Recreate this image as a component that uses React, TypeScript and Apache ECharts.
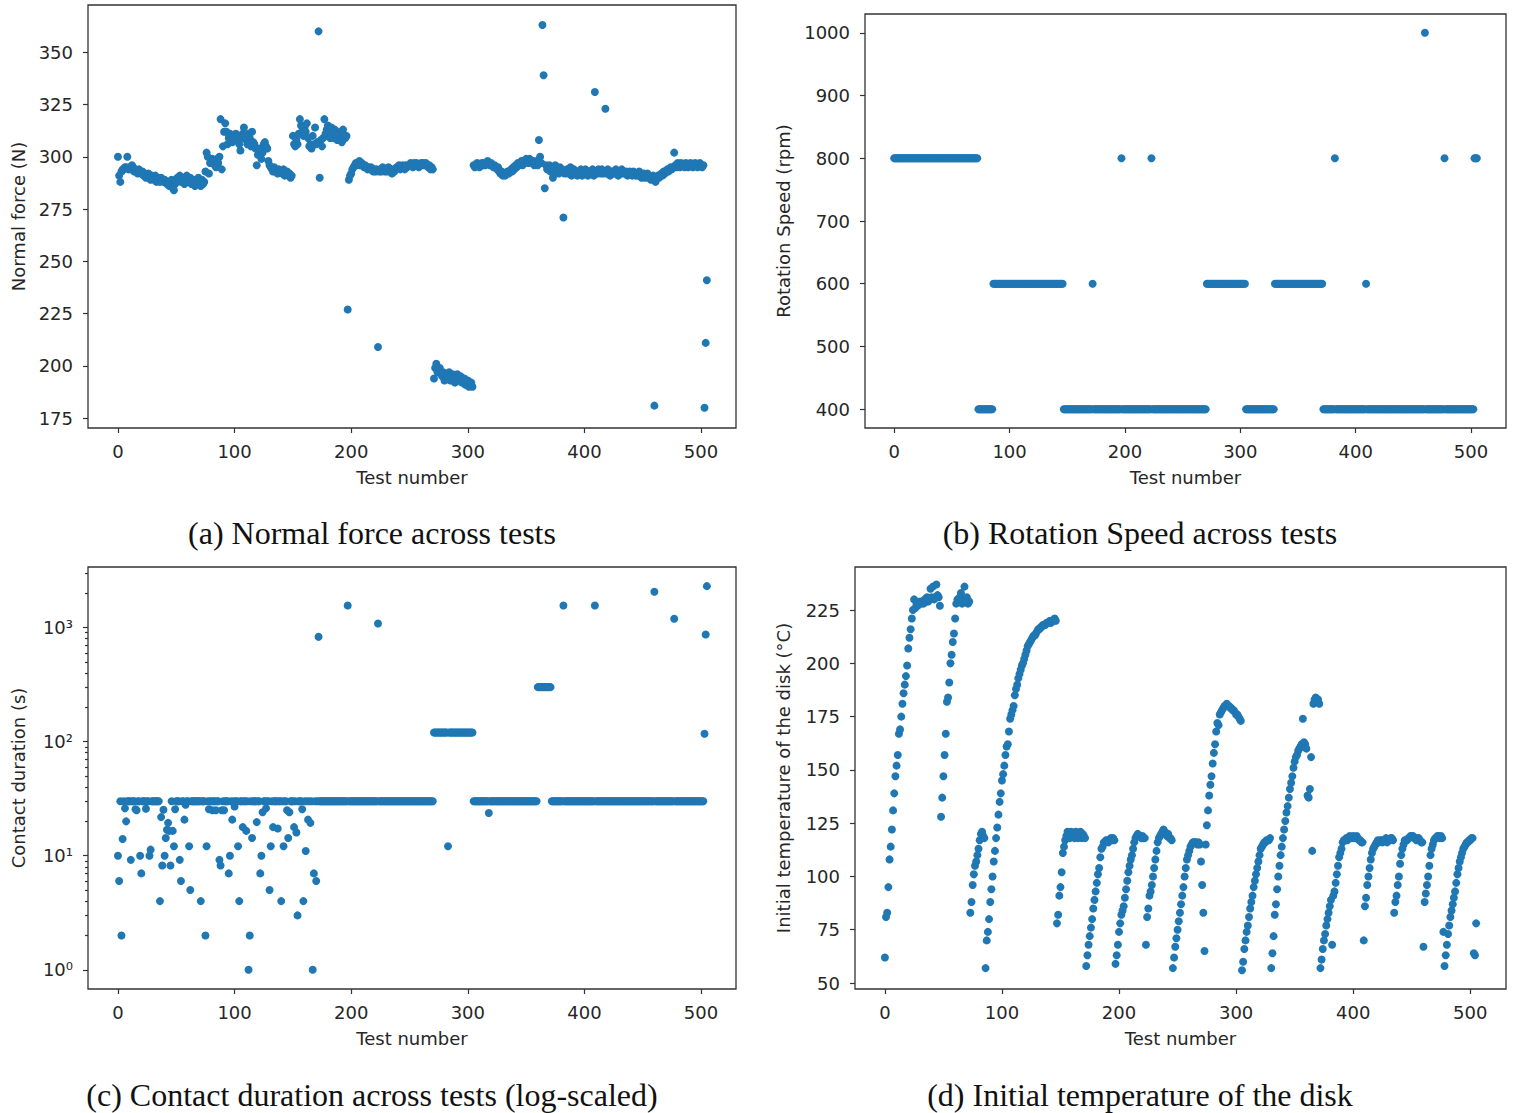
import React, { useEffect, useRef } from "react";
import * as echarts from "echarts";

// ---------- data ----------
// (a) normal force, one value per test number 0..505
const normalForce: number[] = [
  300, 291, 288, 293, 294, 294, 295, 295, 300, 294,
  295, 294, 296, 295, 293, 294, 293, 292, 294, 293,
  292, 293, 291, 292, 290, 291, 292, 290, 289, 291,
  290, 289, 291, 288, 290, 289, 288, 290, 289, 288,
  289, 288, 287, 288, 286, 287, 289, 285, 284, 287,
  288, 290, 289, 291, 288, 289, 290, 287, 289, 291,
  289, 288, 290, 287, 289, 288, 286, 289, 287, 290,
  288, 286, 289, 287, 288, 293, 302, 300, 292, 297,
  297, 299, 298, 296, 295, 299, 297, 300, 318, 294,
  305, 312, 316, 312, 306, 309, 311, 308, 307, 310,
  309, 311, 308, 310, 306, 303, 309, 311, 314, 310,
  308, 306, 311, 309, 305, 312, 307, 306, 304, 296,
  301, 303, 304, 299, 302, 306, 307, 305, 304, 298,
  296, 295, 294, 293, 295, 294, 293, 292, 294, 293,
  293, 292, 294, 291, 292, 293, 291, 292, 290, 291,
  310, 306, 305, 308, 306, 311, 318, 315, 312, 310,
  314, 312, 316, 309, 305, 306, 304, 310, 306, 314,
  306, 307, 360, 290, 308, 305, 309, 318, 311, 313,
  315, 312, 309, 314, 311, 309, 313, 312, 308, 310,
  311, 312, 307, 313, 310, 309, 310, 227, 289, 291,
  292, 294, 295, 296, 297, 296, 297, 298, 296, 297,
  296, 295, 296, 295, 294, 295, 294, 295, 294, 293,
  294, 293, 294, 209, 293, 294, 293, 295, 294, 293,
  294, 293, 295, 294, 293, 292, 294, 293, 294, 295,
  295, 296, 294, 295, 296, 295, 294, 296, 295, 296,
  296, 297, 296, 295, 297, 296, 297, 296, 295, 296,
  297, 296, 297, 296, 297, 296, 295, 296, 294, 295,
  294, 194, 199, 201, 197, 198, 199, 196, 195, 197,
  193, 196, 194, 195, 197, 193, 195, 196, 194, 192,
  195, 196, 193, 194, 195, 192, 193, 194, 191, 192,
  193, 190, 191, 192, 190, 296, 295, 296, 297, 296,
  295, 296, 297, 296, 297, 296, 297, 298, 297, 296,
  297, 296, 295, 296, 295, 294, 295, 293, 292, 293,
  291, 292, 291, 292, 293, 292, 293, 294, 293, 295,
  294, 296, 295, 297, 296, 297, 298, 296, 298, 297,
  299, 298, 297, 299, 298, 297, 298, 296, 297, 298,
  296, 308, 300, 297, 363, 339, 285, 296, 294, 295,
  296, 293, 295, 290, 294, 296, 293, 294, 292, 295,
  293, 294, 271, 292, 293, 294, 292, 293, 295, 291,
  293, 294, 292, 293, 291, 293, 292, 294, 291, 293,
  292, 294, 293, 291, 292, 293, 292, 294, 291, 331,
  293, 292, 294, 293, 292, 294, 292, 293, 323, 292,
  294, 293, 291, 293, 292, 293, 292, 294, 293, 291,
  292, 293, 294, 292, 293, 292, 293, 291, 292, 293,
  292, 291, 293, 292, 291, 292, 291, 293, 292, 290,
  291, 292, 290, 291, 292, 290, 291, 289, 290, 291,
  181, 288, 290, 291, 290, 291, 292, 291, 293, 292,
  293, 294, 293, 294, 295, 294, 295, 302, 296, 295,
  297, 296, 295, 297, 296, 296, 295, 297, 296, 295,
  296, 297, 296, 295, 296, 297, 296, 295, 296, 297,
  296, 295, 296, 180, 211, 241,
];

// (b) rotation speed: runs of [rpm, number of consecutive tests], then single tests [test, rpm]
const speedRuns: [number, number][] = [
  [800, 73], [400, 13], [600, 61], [400, 124], [600, 34], [400, 25], [600, 42], [400, 131], [800, 3],
];
const speedSingles: [number, number][] = [
  [172, 600], [197, 800], [223, 800], [382, 800], [409, 600], [460, 1000], [477, 800],
];

// (c) contact duration (s): runs of [seconds, count], then single tests [test, seconds]
const durationRuns: [number, number][] = [
  [30, 271], [120, 34], [30, 55], [300, 12], [30, 134],
];
const durationSingles: [number, number][] = [
  [0, 10], [1, 6], [3, 2], [4, 14], [6, 26], [7, 20], [11, 9.2], [15, 25.5], [16, 25], [19, 10],
  [20, 7], [24, 25.8], [27, 10], [28, 11.3], [36, 4], [37, 21.8], [38, 8.2], [39, 25.3], [40, 10],
  [41, 14.3], [42, 16.9], [43, 19.4], [44, 16.5], [45, 8.2], [47, 16.5], [48, 12.1], [49, 25.5],
  [53, 9.2], [54, 6], [57, 20.7], [58, 28], [61, 12.1], [62, 5], [71, 4], [75, 2], [76, 12.1],
  [78, 25.5], [81, 25], [84, 25], [87, 9.2], [88, 8.2], [89, 25], [91, 25], [95, 7], [96, 10],
  [98, 20.7], [100, 27], [103, 12.1], [104, 4], [107, 17.8], [110, 16.5], [112, 1], [113, 2],
  [115, 14.3], [119, 19.7], [122, 7], [123, 10], [124, 24], [127, 26], [130, 5], [131, 12.1],
  [133, 17.8], [137, 17.3], [140, 4], [142, 12.1], [145, 25], [146, 14.3], [147, 24], [151, 17.8],
  [153, 16], [154, 3], [158, 25.5], [159, 4], [161, 11], [163, 20.7], [165, 19.4], [167, 1],
  [168, 7], [170, 6], [172, 828], [197, 1560], [223, 1084], [283, 12.1], [318, 23.7],
  [382, 1560], [409, 1560], [460, 2056], [477, 1192], [503, 117], [504, 868], [505, 2303],
];

// (d) initial disk temperature (°C), one value per test number 0..505
const diskTemperature: number[] = [
  62, 81, 83, 95, 108, 114, 122, 131, 139, 147,
  152, 157, 167, 169, 175, 181, 186, 190, 194, 199,
  207, 212, 216, 221, 225, 230, 226, 228, 227, 228,
  229, 228, 229, 228, 230, 229, 231, 229, 230, 235,
  231, 236, 230, 231, 237, 232, 231, 227, 128, 137,
  147, 157, 167, 182, 184, 191, 200, 204, 210, 214,
  221, 228, 230, 229, 231, 233, 228, 230, 236, 229,
  231, 228, 229, 83, 88, 96, 101, 105, 107, 110,
  113, 117, 120, 121, 119, 118, 57, 70, 74, 80,
  88, 94, 100, 107, 112, 118, 123, 129, 135, 139,
  145, 148, 152, 157, 161, 162, 168, 174, 176, 178,
  180, 185, 188, 190, 193, 195, 197, 199, 200, 202,
  204, 206, 208, 209, 210, 211, 212, 213, 213, 214,
  215, 216, 216, 217, 217, 218, 218, 218, 219, 219,
  219, 220, 219, 220, 220, 221, 220, 78, 82, 91,
  95, 102, 111, 114, 117, 119, 121, 120, 118, 121,
  119, 120, 118, 121, 119, 118, 120, 121, 118, 120,
  119, 118, 58, 63, 68, 72, 76, 80, 85, 89,
  93, 97, 101, 104, 109, 113, 114, 116, 116, 117,
  117, 116, 117, 118, 117, 118, 117, 59, 63, 68,
  74, 78, 82, 84, 86, 90, 94, 98, 102, 105,
  108, 110, 113, 116, 118, 119, 120, 119, 119, 118,
  119, 118, 118, 68, 81, 85, 91, 93, 96, 100,
  104, 108, 112, 116, 118, 119, 120, 121, 122, 121,
  120, 119, 120, 118, 118, 117, 57, 62, 67, 71,
  75, 79, 83, 87, 91, 95, 100, 104, 108, 110,
  112, 114, 115, 116, 116, 116, 116, 115, 116, 115,
  107, 96, 83, 65, 115, 124, 131, 138, 143, 147,
  153, 158, 162, 168, 172, 171, 176, 177, 178, 179,
  180, 180, 181, 180, 180, 179, 179, 178, 178, 177,
  176, 176, 175, 174, 173, 56, 60, 66, 70, 74,
  77, 81, 85, 88, 91, 95, 98, 101, 104, 107,
  110, 113, 114, 115, 116, 116, 117, 117, 117, 118,
  57, 64, 72, 82, 87, 94, 100, 105, 110, 114,
  118, 122, 126, 130, 133, 137, 141, 144, 147, 151,
  154, 156, 157, 159, 160, 161, 162, 174, 163, 162,
  160, 138, 137, 141, 156, 112, 181, 183, 184, 182,
  183, 181, 57, 61, 66, 70, 73, 77, 80, 83,
  86, 89, 68, 91, 93, 97, 101, 105, 109, 111,
  113, 116, 117, 117, 118, 117, 118, 119, 118, 118,
  119, 118, 118, 119, 118, 117, 117, 116, 116, 70,
  86, 90, 96, 100, 104, 108, 111, 113, 114, 115,
  116, 117, 116, 117, 117, 116, 117, 117, 118, 116,
  117, 117, 118, 118, 117, 83, 88, 91, 96, 100,
  106, 110, 113, 115, 117, 117, 117, 118, 118, 119,
  119, 119, 118, 118, 117, 118, 118, 117, 116, 116,
  67, 88, 92, 96, 100, 105, 110, 113, 115, 117,
  118, 118, 119, 119, 118, 119, 118, 74, 58, 63,
  68, 73, 77, 81, 84, 87, 90, 93, 97, 101,
  104, 107, 109, 111, 113, 114, 115, 116, 116, 117,
  117, 118, 118, 64, 63, 78,
];

// tick labels
const testTicks = [0, 100, 200, 300, 400, 500];
const forceTicks = [175, 200, 225, 250, 275, 300, 325, 350];
const speedTicks = [400, 500, 600, 700, 800, 900, 1000];
const durationTicks = [1, 10, 100, 1000];
const durationMinorTicks = [
  2, 3, 4, 5, 6, 7, 8, 9, 20, 30, 40, 50, 60, 70, 80, 90,
  200, 300, 400, 500, 600, 700, 800, 900, 2000, 3000,
];
const tempTicks = [50, 75, 100, 125, 150, 175, 200, 225];

const captions = [
  "(a) Normal force across tests",
  "(b) Rotation Speed across tests",
  "(c) Contact duration across tests (log-scaled)",
  "(d) Initial temperature of the disk",
];

// ---------- helpers ----------
function expandRuns(runs: [number, number][], singles: [number, number][]): number[] {
  const out: number[] = [];
  runs.forEach(([v, n]) => {
    for (let k = 0; k < n; k++) out.push(v);
  });
  singles.forEach(([i, v]) => {
    out[i] = v;
  });
  return out;
}

const SUP: Record<number, string> = { 0: "\u2070", 1: "\u00b9", 2: "\u00b2", 3: "\u00b3" };
const TEXT = "#262626";
const FRAME = "#333333";
const DOT = "#1f77b4";
const SANS = "DejaVu Sans";

function buildOption() {
  const speed = expandRuns(speedRuns, speedSingles);
  const duration = expandRuns(durationRuns, durationSingles);
  const toPoints = (arr: number[]) => arr.map((v, i) => [i, v]);

  const logMinExp = -0.168;
  const logMaxExp = 3.53;

  const labelStyle = (margin: number) => ({
    fontSize: 18,
    fontFamily: SANS,
    color: TEXT,
    margin,
    formatter: (v: number) => String(v),
  });
  const tickStyle = (values: number[], length = 5) => ({
    show: true,
    length,
    customValues: values,
    lineStyle: { color: FRAME, width: 1.2 },
  });
  const nameStyle = { fontSize: 18, fontFamily: SANS, color: TEXT };
  const hiddenLine = { show: false, onZero: false };

  const xAxis = (grid: number, min: number, max: number, gap: number) => ({
    type: "value",
    gridIndex: grid,
    position: "bottom",
    min,
    max,
    axisLine: hiddenLine,
    splitLine: { show: false },
    axisTick: tickStyle(testTicks),
    axisLabel: { ...labelStyle(14), customValues: testTicks },
    name: "Test number",
    nameLocation: "middle",
    nameGap: gap,
    nameTextStyle: nameStyle,
  });

  const grids = [
    { left: 88, top: 5, width: 648, height: 423 },
    { left: 865, top: 14, width: 641, height: 414 },
    { left: 88, top: 567, width: 648, height: 422 },
    { left: 855, top: 567, width: 651, height: 422 },
  ].map((g) => ({
    ...g,
    show: true,
    borderColor: FRAME,
    borderWidth: 1.3,
    backgroundColor: "transparent",
    containLabel: false,
  }));

  const yValueAxis = (
    grid: number,
    min: number,
    max: number,
    ticks: number[],
    name: string,
    gap: number
  ) => ({
    type: "value",
    gridIndex: grid,
    position: "left",
    min,
    max,
    axisLine: hiddenLine,
    splitLine: { show: false },
    axisTick: tickStyle(ticks),
    axisLabel: { ...labelStyle(15), customValues: ticks },
    name,
    nameLocation: "middle",
    nameGap: gap,
    nameTextStyle: nameStyle,
  });

  const scatter = (xi: number, yi: number, data: number[][]) => ({
    type: "scatter",
    xAxisIndex: xi,
    yAxisIndex: yi,
    data,
    symbol: "circle",
    symbolSize: 8,
    itemStyle: { color: DOT, opacity: 1 },
    silent: true,
    emphasis: { disabled: true },
  });

  return {
    animation: false,
    backgroundColor: "#ffffff",
    grid: grids,
    xAxis: [
      xAxis(0, -25.7, 530, 40),
      xAxis(1, -25.3, 530.3, 40),
      xAxis(2, -25.7, 530, 40),
      xAxis(3, -25.5, 530.5, 40),
    ],
    yAxis: [
      yValueAxis(0, 170.3, 372.6, forceTicks, "Normal force (N)", 61),
      yValueAxis(1, 370, 1030, speedTicks, "Rotation Speed (rpm)", 73),
      {
        type: "log",
        logBase: 10,
        gridIndex: 2,
        position: "left",
        min: Math.pow(10, logMinExp),
        max: Math.pow(10, logMaxExp),
        show: false,
        axisLine: hiddenLine,
      },
      {
        type: "value",
        gridIndex: 2,
        position: "left",
        min: logMinExp,
        max: logMaxExp,
        axisLine: hiddenLine,
        splitLine: { show: false },
        axisTick: tickStyle(durationTicks.map((v) => Math.log10(v))),
        axisLabel: {
          fontSize: 18,
          fontFamily: SANS,
          color: TEXT,
          margin: 15,
          customValues: durationTicks.map((v) => Math.log10(v)),
          formatter: (v: number) => "10" + SUP[Math.round(v)],
        },
        name: "Contact duration (s)",
        nameLocation: "middle",
        nameGap: 61,
        nameTextStyle: nameStyle,
      },
      {
        type: "value",
        gridIndex: 2,
        position: "left",
        min: logMinExp,
        max: logMaxExp,
        axisLine: hiddenLine,
        splitLine: { show: false },
        axisTick: tickStyle(durationMinorTicks.map((v) => Math.log10(v)), 3),
        axisLabel: { show: false },
      },
      yValueAxis(3, 47.2, 245.2, tempTicks, "Initial temperature of the disk (\u00b0C)", 63),
    ],
    series: [
      scatter(0, 0, toPoints(normalForce)),
      scatter(1, 1, toPoints(speed)),
      scatter(2, 2, toPoints(duration)),
      scatter(3, 5, toPoints(diskTemperature)),
    ],
    graphic: [
      [0, 372, 533],
      [1, 1140, 533],
      [2, 372, 1095],
      [3, 1140, 1095],
    ].map(([i, x, y]) => ({
      type: "text",
      x,
      y,
      silent: true,
      style: {
        text: captions[i],
        fontSize: 32,
        fontFamily: "Liberation Serif",
        fill: "#111111",
        textAlign: "center",
        textVerticalAlign: "middle",
      },
    })),
  };
}

export default function App() {
  const ref = useRef<HTMLDivElement>(null);
  useEffect(() => {
    if (!ref.current) return;
    const chart = echarts.init(ref.current, undefined, { renderer: "svg" });
    chart.setOption(buildOption() as any);
    return () => chart.dispose();
  }, []);
  return (
    <div
      ref={ref}
      style={{ position: "absolute", left: 0, top: 0, width: 1515, height: 1113, background: "#fff" }}
    />
  );
}
